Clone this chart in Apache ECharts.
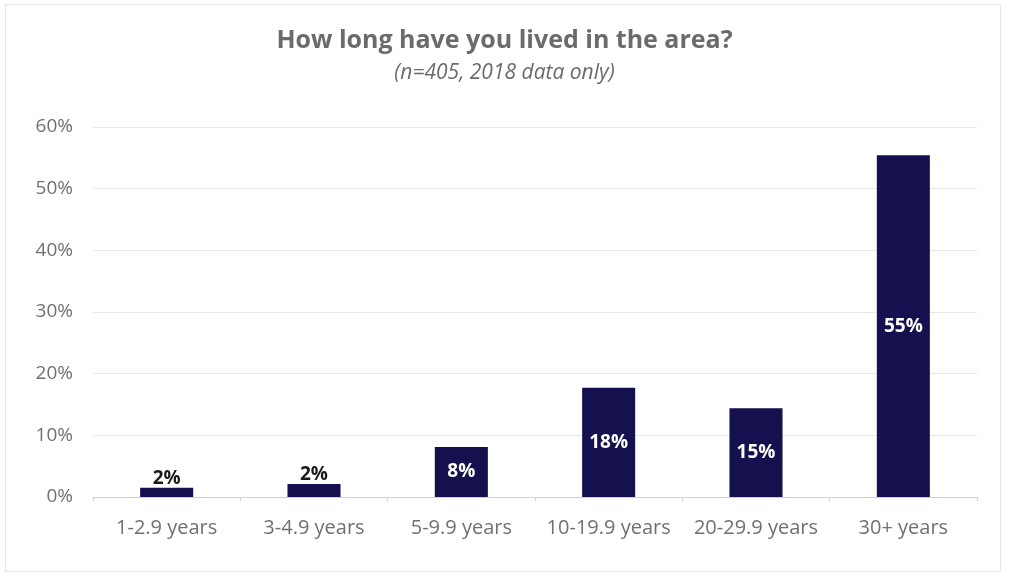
<!DOCTYPE html>
<html>
<head>
<meta charset="utf-8">
<script src="https://cdn.jsdelivr.net/npm/echarts@6/dist/echarts.min.js"></script>
<style>
html,body{margin:0;padding:0;background:#fff;}
#frame{position:absolute;left:5px;top:4px;width:996px;height:568px;border:1px solid #e6e6e6;box-sizing:border-box;}
#chart{position:absolute;left:0;top:0;width:1009px;height:579px;}
</style>
</head>
<body>
<div id="frame"></div>
<div id="chart"></div>
<script>
const categories = ['1-2.9 years','3-4.9 years','5-9.9 years','10-19.9 years','20-29.9 years','30+ years'];
const values = [1.5, 2.1, 8.1, 17.7, 14.4, 55.4];
const labels = ['2%','2%','8%','18%','15%','55%'];
const insideLabel = [false, false, true, true, true, true];
const yTicks = [0,10,20,30,40,50,60];

const font = '"Open Sans", Lato, sans-serif';
const chart = echarts.init(document.getElementById('chart'), null, {renderer:'canvas'});
chart.setOption({
  backgroundColor: 'transparent',
  animation: false,
  title: {
    text: 'How long have you lived in the area?',
    subtext: '(n=405, 2018 data only)',
    left: 'center', top: 23, itemGap: 10,
    textStyle: {fontFamily: font, fontSize: 25, fontWeight: 'bold', color: '#6b6b6b'},
    subtextStyle: {fontFamily: font, fontSize: 21, fontStyle: 'italic', color: '#6b6b6b'}
  },
  grid: {left: 93, right: 32, top: 127, bottom: 82, containLabel: false},
  xAxis: {
    type: 'category', data: categories,
    axisLine: {lineStyle: {color: '#d0d0d0'}},
    axisTick: {show: true, alignWithLabel: false, length: 4, lineStyle: {color: '#d0d0d0'}},
    axisLabel: {interval: 0, fontFamily: font, fontSize: 20, color: '#707070', margin: 21}
  },
  yAxis: {
    type: 'value', min: yTicks[0], max: yTicks[yTicks.length-1], interval: 10,
    axisLine: {show: false}, axisTick: {show: false},
    splitLine: {lineStyle: {color: '#e8e8e8'}},
    axisLabel: {fontFamily: font, fontSize: 19, color: '#707070', margin: 20, formatter: v => v + '%'}
  },
  series: [{
    type: 'bar', barWidth: '36%',
    itemStyle: {color: '#15104e'},
    data: values.map((v, i) => ({
      value: v,
      label: {
        show: true,
        position: insideLabel[i] ? 'inside' : 'top',
        distance: 0,
        formatter: labels[i],
        fontFamily: font, fontSize: 19, fontWeight: 'bold',
        color: insideLabel[i] ? '#ffffff' : '#1a1a1a'
      }
    }))
  }]
});
</script>
</body>
</html>
